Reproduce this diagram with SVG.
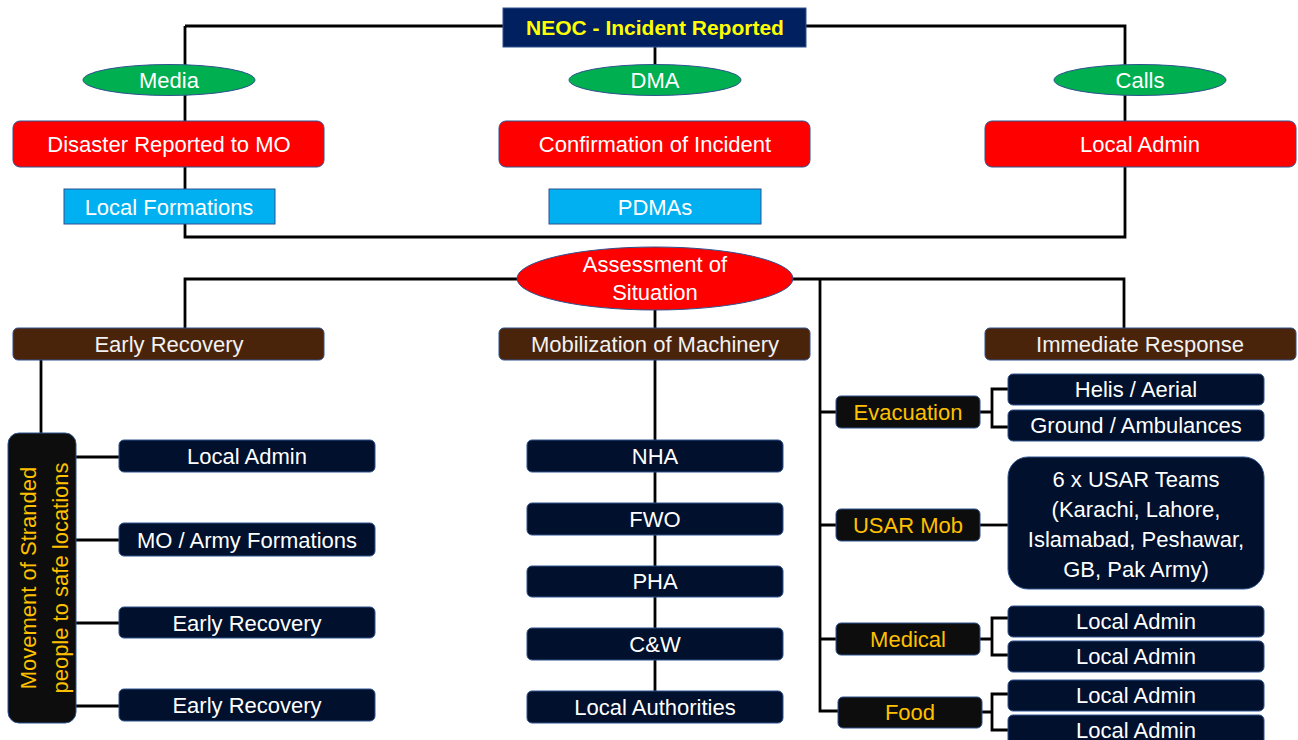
<svg xmlns="http://www.w3.org/2000/svg" width="1298" height="740" viewBox="0 0 1298 740">
<style>
text{font-family:"Liberation Sans",Arial,sans-serif;font-size:22px;fill:#fff;text-anchor:middle}
.ln{stroke:#000;stroke-width:2.8;fill:none}
.sh{stroke:#2F528F;stroke-width:1}
.red{fill:#FF0000}
.grn{fill:#00B050}
.cyan{fill:#00B0F0}
.brn{fill:#4A230B}
.nav{fill:#00102D}
.blk{fill:#0D0D0D}
.yel{fill:#FFC000}
</style>
<rect width="1298" height="740" fill="#fff"/>
<g id="connectors">
<path class="ln" d="M185,26 H1125 V121 M185,26 V121 M655,47 V64"/>
<path class="ln" d="M185,167 V237 H1125 V167"/>
<path class="ln" d="M185,328 V279 H1124 V328 M655,310 V328 M655,360 V691"/>
<path class="ln" d="M41,360 V433 M76,457 H119 M76,540 H119 M76,623 H119 M76,706 H119"/>
<path class="ln" d="M820,279 V711 H838 M820,412 H836 M820,525 H836 M820,639 H836"/>
<path class="ln" d="M980,412 H992 M1008,389 H992 V427 H1008"/>
<path class="ln" d="M980,525 H1008"/>
<path class="ln" d="M980,639 H992 M1008,618 H992 V655 H1008"/>
<path class="ln" d="M982,712 H992 M1008,694 H992 V730 H1008"/>
</g>
<g id="neoc"><rect x="503" y="8" width="303" height="39" fill="#002060" class="sh"/><text x="655" y="35" style="font-weight:bold;font-size:21px;fill:#FFFF00">NEOC - Incident Reported</text></g>
<g id="media"><ellipse cx="169" cy="80" rx="86" ry="15.5" class="grn sh"/><text x="169" y="88">Media</text></g>
<g id="dma"><ellipse cx="655" cy="80" rx="86" ry="15.5" class="grn sh"/><text x="655" y="88">DMA</text></g>
<g id="calls"><ellipse cx="1140" cy="80" rx="86" ry="15.5" class="grn sh"/><text x="1140" y="88">Calls</text></g>
<g id="disaster"><rect x="13" y="121" width="311" height="46" rx="7" class="red sh"/><text x="169" y="152">Disaster Reported to MO</text></g>
<g id="confirm"><rect x="499" y="121" width="311" height="46" rx="7" class="red sh"/><text x="655" y="152">Confirmation of Incident</text></g>
<g id="localadmin-top"><rect x="985" y="121" width="311" height="46" rx="7" class="red sh"/><text x="1140" y="152">Local Admin</text></g>
<g id="localformations"><rect x="64" y="189" width="211" height="35" class="cyan sh"/><text x="169" y="215">Local Formations</text></g>
<g id="pdmas"><rect x="549" y="189" width="212" height="35" class="cyan sh"/><text x="655" y="215">PDMAs</text></g>
<g id="assessment"><ellipse cx="655" cy="278.5" rx="138" ry="31.5" class="red sh"/><text x="655" y="272">Assessment of</text><text x="655" y="300">Situation</text></g>
<g id="earlyrecovery"><rect x="13" y="328" width="311" height="32" rx="5" class="brn sh"/><text x="169" y="352" style="fill:#F2F2F2">Early Recovery</text></g>
<g id="mobilization"><rect x="499" y="328" width="311" height="32" rx="5" class="brn sh"/><text x="655" y="352" style="fill:#F2F2F2">Mobilization of Machinery</text></g>
<g id="immediate"><rect x="985" y="328" width="311" height="32" rx="5" class="brn sh"/><text x="1140" y="352" style="fill:#F2F2F2">Immediate Response</text></g>
<g id="movement"><rect x="8" y="433" width="68" height="290" rx="11" class="blk sh"/><text transform="translate(36,578) rotate(-90)" class="yel"><tspan x="0" y="0">Movement of Stranded</tspan><tspan x="0" y="32">people to safe locations</tspan></text></g>
<g id="l-localadmin"><rect x="119" y="440" width="256" height="32" rx="5" class="nav sh"/><text x="247" y="464">Local Admin</text></g>
<g id="l-mo"><rect x="119" y="523" width="256" height="33" rx="5" class="nav sh"/><text x="247" y="548">MO / Army Formations</text></g>
<g id="l-er1"><rect x="119" y="607" width="256" height="31" rx="5" class="nav sh"/><text x="247" y="631">Early Recovery</text></g>
<g id="l-er2"><rect x="119" y="689" width="256" height="32" rx="5" class="nav sh"/><text x="247" y="713">Early Recovery</text></g>
<g id="nha"><rect x="527" y="440" width="256" height="32" rx="5" class="nav sh"/><text x="655" y="464">NHA</text></g>
<g id="fwo"><rect x="527" y="503" width="256" height="32" rx="5" class="nav sh"/><text x="655" y="527">FWO</text></g>
<g id="pha"><rect x="527" y="566" width="256" height="31" rx="5" class="nav sh"/><text x="655" y="589">PHA</text></g>
<g id="cw"><rect x="527" y="628" width="256" height="32" rx="5" class="nav sh"/><text x="655" y="652">C&amp;W</text></g>
<g id="localauth"><rect x="527" y="691" width="256" height="32" rx="5" class="nav sh"/><text x="655" y="715">Local Authorities</text></g>
<g id="evacuation"><rect x="836" y="396" width="144" height="32" rx="5" class="blk sh"/><text x="908" y="420" class="yel">Evacuation</text></g>
<g id="helis"><rect x="1008" y="374" width="256" height="31" rx="5" class="nav sh"/><text x="1136" y="397">Helis / Aerial</text></g>
<g id="ground"><rect x="1008" y="410" width="256" height="31" rx="5" class="nav sh"/><text x="1136" y="433">Ground / Ambulances</text></g>
<g id="usarmob"><rect x="836" y="509" width="144" height="32" rx="5" class="blk sh"/><text x="908" y="533" class="yel">USAR Mob</text></g>
<g id="usarteams"><rect x="1008" y="457" width="256" height="132" rx="20" class="nav sh"/><text x="1136" y="487">6 x USAR Teams</text><text x="1136" y="517">(Karachi, Lahore,</text><text x="1136" y="547">Islamabad, Peshawar,</text><text x="1136" y="577">GB, Pak Army)</text></g>
<g id="medical"><rect x="836" y="623" width="144" height="32" rx="5" class="blk sh"/><text x="908" y="647" class="yel">Medical</text></g>
<g id="med-la1"><rect x="1008" y="606" width="256" height="31" rx="5" class="nav sh"/><text x="1136" y="629">Local Admin</text></g>
<g id="med-la2"><rect x="1008" y="641" width="256" height="31" rx="5" class="nav sh"/><text x="1136" y="664">Local Admin</text></g>
<g id="food"><rect x="838" y="697" width="144" height="31" rx="5" class="blk sh"/><text x="910" y="720" class="yel">Food</text></g>
<g id="food-la1"><rect x="1008" y="680" width="256" height="31" rx="5" class="nav sh"/><text x="1136" y="703">Local Admin</text></g>
<g id="food-la2"><rect x="1008" y="715" width="256" height="31" rx="5" class="nav sh"/><text x="1136" y="738">Local Admin</text></g>
</svg>
